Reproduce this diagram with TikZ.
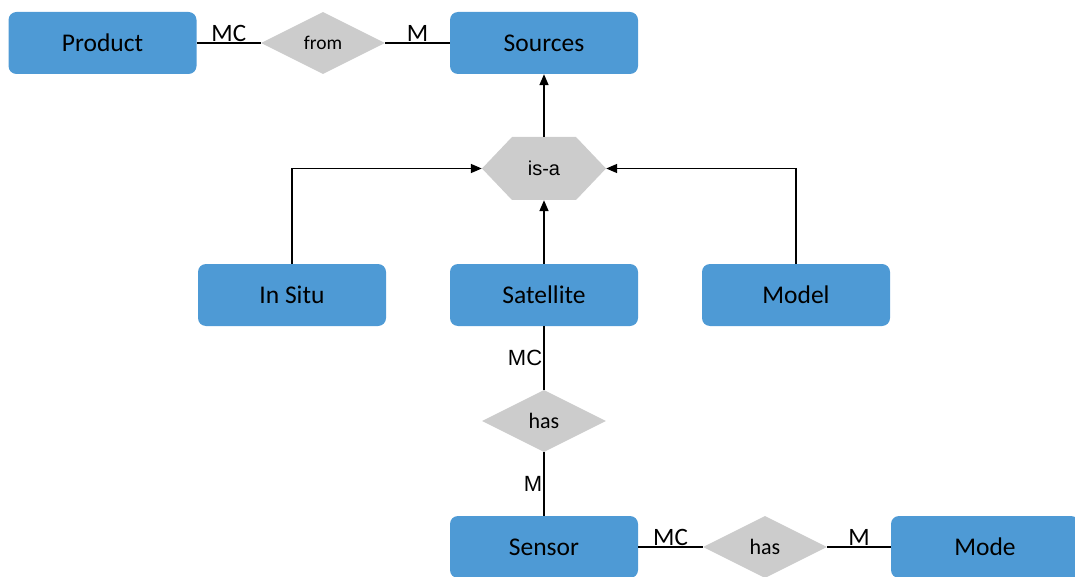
\documentclass[tikz,border=0pt]{standalone}
\usepackage{fontspec}
\setmainfont{Carlito}
\newfontfamily\arialfont{Liberation Sans}
\usetikzlibrary{shapes.geometric,arrows.meta}
\definecolor{entblue}{RGB}{78,154,213}
\definecolor{relgray}{RGB}{204,204,204}
\tikzset{
  entity/.style={rectangle, rounded corners=8pt, fill=entblue, minimum width=188pt,
    minimum height=62pt, inner sep=0pt, font=\fontsize{25.5}{29}\selectfont},
  relation/.style={diamond, aspect=2, fill=relgray, minimum width=124pt,
    minimum height=62pt, inner sep=0pt},
  isabox/.style={rectangle, minimum width=124pt, minimum height=63pt, inner sep=0pt,
    font=\arialfont\fontsize{20}{24}\selectfont,
    path picture={\fill[relgray] (path picture bounding box.west)
      -- ([xshift=30pt]path picture bounding box.north west)
      -- ([xshift=-30pt]path picture bounding box.north east)
      -- (path picture bounding box.east)
      -- ([xshift=-30pt]path picture bounding box.south east)
      -- ([xshift=30pt]path picture bounding box.south west) -- cycle;}},
  link/.style={line width=1.6pt},
  isarrow/.style={line width=1.6pt, -{Triangle[length=11pt,width=9pt]}},
  card/.style={font=\fontsize{25}{28}\selectfont, inner sep=1pt},
  vcard/.style={font=\arialfont\fontsize{22}{25}\selectfont, inner sep=1pt}
}
\begin{document}
\begin{tikzpicture}[x=1pt, y=-1pt]
\useasboundingbox (0,0) rectangle (1075,577);
\clip (0,0) rectangle (1075,577);

% entities
\node[entity] (product)   at (102.5,43) {Product};
\node[entity] (sources)   at (544,43)   {Sources};
\node[entity] (insitu)    at (292,295)  {In Situ};
\node[entity] (satellite) at (544,295)  {Satellite};
\node[entity] (model)     at (796,295)  {Model};
\node[entity] (sensor)    at (544,547)  {Sensor};
\node[entity] (mode)      at (985,547)  {Mode};

% relationships
\node[relation, font=\fontsize{19.5}{22}\selectfont] (from) at (323,43) {from};
\node[isabox] (isa) at (544,168.5) {is-a};
\node[relation, font=\fontsize{22}{26}\selectfont] (has1) at (544,421) {has};
\node[relation, font=\fontsize{22}{26}\selectfont] (has2) at (765,547) {has};

% cardinality links
\draw[link] (product.east) -- node[card, above] {MC} (from.west);
\draw[link] (from.east) -- node[card, above] {M} (sources.west);
\draw[link] (satellite.south) -- node[vcard, left] {MC} (has1.north);
\draw[link] (has1.south) -- node[vcard, left] {M} (sensor.north);
\draw[link] (sensor.east) -- node[card, above] {MC} (has2.west);
\draw[link] (has2.east) -- node[card, above] {M} (mode.west);

% generalisation
\draw[isarrow] (isa.north) -- (sources.south);
\draw[isarrow] (satellite.north) -- (isa.south);
\draw[isarrow] (insitu.north) |- (isa.west);
\draw[isarrow] (model.north) |- (isa.east);
\end{tikzpicture}
\end{document}
